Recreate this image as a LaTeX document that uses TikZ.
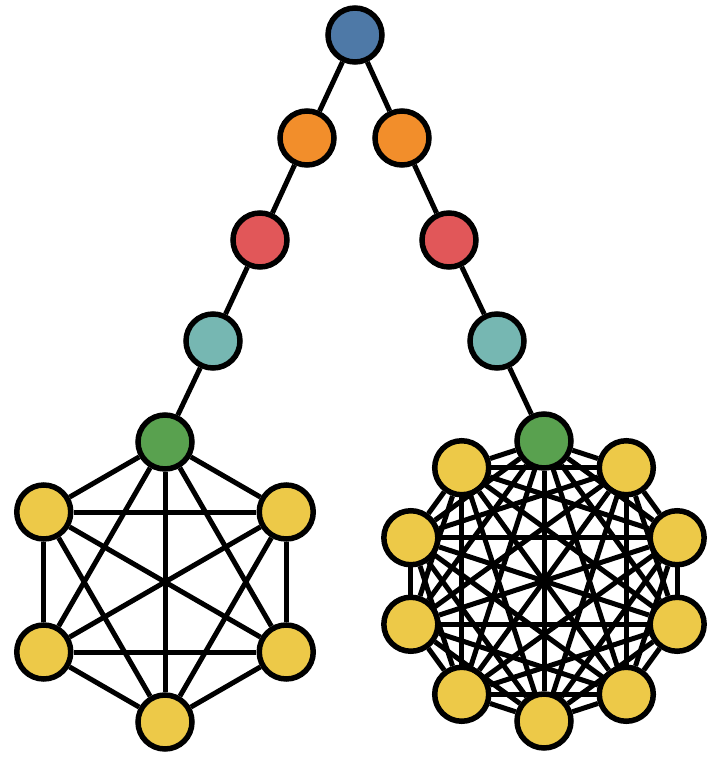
\documentclass[tikz,border=0pt]{standalone}
\usetikzlibrary{calc}
\definecolor{cblue}{HTML}{4E79A7}
\definecolor{corange}{HTML}{F28E2B}
\definecolor{cred}{HTML}{E15759}
\definecolor{cteal}{HTML}{76B7B2}
\definecolor{cgreen}{HTML}{59A14F}
\definecolor{cyellow}{HTML}{EDC948}
\begin{document}
\begin{tikzpicture}[x=1pt,y=-1pt,
  vtx/.style={circle,draw=black,line width=5.5pt,minimum size=54pt,inner sep=0pt},
  edge/.style={line width=5pt,draw=black}]
\useasboundingbox (0,0) rectangle (717,757);
% chain
\node[vtx,fill=cblue] (top) at (355,35) {};
\node[vtx,fill=corange] (oL) at (307,138) {};
\node[vtx,fill=corange] (oR) at (402,138) {};
\node[vtx,fill=cred] (rL) at (260,240) {};
\node[vtx,fill=cred] (rR) at (449,240) {};
\node[vtx,fill=cteal] (tL) at (213,341) {};
\node[vtx,fill=cteal] (tR) at (497,341) {};
% left K6 (y axis is flipped, so angles are negated)
\coordinate (cL) at (165,582);
\node[vtx,fill=cgreen] (L0) at ($(cL)+(-90:140)$) {};
\foreach \i in {1,...,5}
  \node[vtx,fill=cyellow] (L\i) at ($(cL)+({60*\i-90}:140)$) {};
% right K10
\coordinate (cR) at (544,581);
\node[vtx,fill=cgreen] (R0) at ($(cR)+(-90:140)$) {};
\foreach \i in {1,...,9}
  \node[vtx,fill=cyellow] (R\i) at ($(cR)+({36*\i-90}:140)$) {};
% chain edges
\draw[edge] (top) -- (oL) -- (rL) -- (tL) -- (L0);
\draw[edge] (top) -- (oR) -- (rR) -- (tR) -- (R0);
% complete graphs
\foreach \i in {0,...,4} {
  \pgfmathtruncatemacro\s{\i+1}
  \foreach \j in {\s,...,5} \draw[edge] (L\i) -- (L\j);
}
\foreach \i in {0,...,8} {
  \pgfmathtruncatemacro\s{\i+1}
  \foreach \j in {\s,...,9} \draw[edge] (R\i) -- (R\j);
}
\end{tikzpicture}
\end{document}
